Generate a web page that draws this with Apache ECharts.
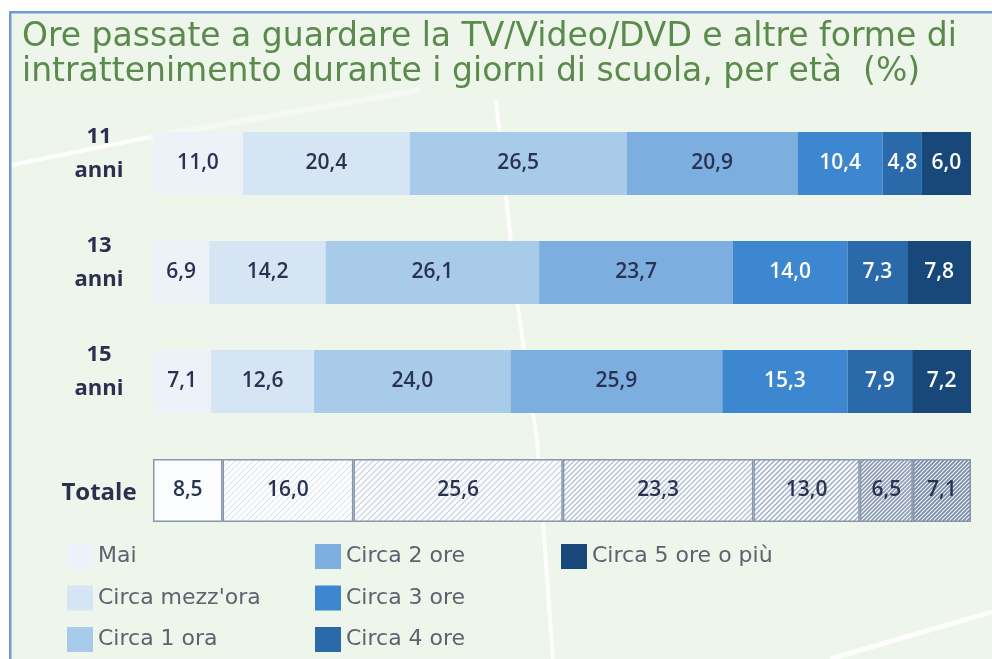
<!DOCTYPE html>
<html>
<head>
<meta charset="utf-8">
<script src="https://cdn.jsdelivr.net/npm/echarts@6/dist/echarts.min.js"></script>
<style>
  html, body { margin: 0; padding: 0; background: #ffffff; }
  #chart { width: 992px; height: 659px; }
</style>
</head>
<body>
<div id="chart"></div>
<script>
// categorie (righe) e fasce orarie (serie)
const ETA = ["11 anni", "13 anni", "15 anni", "Totale"];
const FASCE = [
  "Mai",
  "Circa mezz'ora",
  "Circa 1 ora",
  "Circa 2 ore",
  "Circa 3 ore",
  "Circa 4 ore",
  "Circa 5 ore o più",
];
// valori % per età, nell'ordine delle fasce
const ANNI_11 = [11.0, 20.4, 26.5, 20.9, 10.4, 4.8, 6.0];
const ANNI_13 = [6.9, 14.2, 26.1, 23.7, 14.0, 7.3, 7.8];
const ANNI_15 = [7.1, 12.6, 24.0, 25.9, 15.3, 7.9, 7.2];
const TOTALE = [8.5, 16.0, 25.6, 23.3, 13.0, 6.5, 7.1];

const COLORI = ["#edf2f9", "#d5e5f4", "#a9cbea", "#7cafe0", "#3c87cf", "#2a6aab", "#174879"];
const COLORI_LABEL = ["#2a3252", "#2a3252", "#2a3252", "#2a3252", "#ffffff", "#ffffff", "#ffffff"];
// tratteggio della barra Totale: [colore linea, spessore, passo]
const TRATTEGGI = [
  null,
  ["#d8e0ea", 1, 6],
  ["#c8d2df", 1.2, 6],
  ["#b4c1d3", 1.3, 5],
  ["#a0afc6", 1.5, 5],
  ["#8c9db8", 1.7, 4],
  ["#7a8daa", 1.9, 4],
];

function hatch(def) {
  const c = document.createElement("canvas");
  if (!def) {
    c.width = c.height = 4;
    const g = c.getContext("2d");
    g.fillStyle = "#fbfcfe";
    g.fillRect(0, 0, 4, 4);
    return c;
  }
  const [color, w, s] = def;
  c.width = c.height = s;
  const g = c.getContext("2d");
  g.fillStyle = "#fbfcfe";
  g.fillRect(0, 0, s, s);
  g.strokeStyle = color;
  g.lineWidth = w;
  g.beginPath();
  g.moveTo(-1, s + 1);
  g.lineTo(s + 1, -1);
  g.moveTo(-1, 1);
  g.lineTo(1, -1);
  g.moveTo(s - 1, s + 1);
  g.lineTo(s + 1, s - 1);
  g.stroke();
  return c;
}

function fmt(v) {
  return v.toFixed(1).replace(".", ",");
}

function getOption() {
  const series = FASCE.map((nome, i) => ({
    name: nome,
    type: "bar",
    stack: "tot",
    barWidth: 63,
    itemStyle: { color: COLORI[i] },
    label: {
      show: true,
      position: "inside",
      formatter: (p) => fmt(p.value),
      fontFamily: "Open Sans",
      fontWeight: 600,
      fontSize: 21,
      color: COLORI_LABEL[i],
    },
    data: [
      ANNI_11[i],
      ANNI_13[i],
      ANNI_15[i],
      {
        value: TOTALE[i],
        itemStyle: {
          color: { image: hatch(TRATTEGGI[i]), repeat: "repeat" },
          borderColor: "#8896ad",
          borderWidth: 1.5,
        },
        label: { color: "#2a3252" },
      },
    ],
  }));

  const legendBase = {
    orient: "vertical",
    icon: "rect",
    itemWidth: 26,
    itemHeight: 25,
    itemGap: 16.5,
    top: 544,
    padding: 0,
    height: 115,
    textStyle: { fontFamily: "DejaVu Sans", fontSize: 22, lineHeight: 25, color: "#5c6370" },
  };

  return {
    backgroundColor: "#eef5ea",
    animation: false,
    title: {
      text:
        "Ore passate a guardare la TV/Video/DVD e altre forme di\nintrattenimento durante i giorni di scuola, per età  (%)",
      left: 17,
      top: 15,
      textStyle: {
        fontFamily: "DejaVu Sans",
        fontWeight: "normal",
        fontSize: 33,
        lineHeight: 35,
        color: "#5a8a4c",
      },
    },
    graphic: [
      // cornice bianca + bordo blu in alto e a sinistra
      { type: "rect", shape: { x: 0, y: 0, width: 992, height: 11 }, style: { fill: "#ffffff" }, z: -10 },
      { type: "rect", shape: { x: 0, y: 0, width: 9, height: 659 }, style: { fill: "#ffffff" }, z: -10 },
      { type: "rect", shape: { x: 9, y: 11, width: 983, height: 2.5 }, style: { fill: "#6d9bd6" }, z: -9 },
      { type: "rect", shape: { x: 9, y: 11, width: 2.5, height: 648 }, style: { fill: "#6d9bd6" }, z: -9 },
      // riflessi chiari sullo sfondo
      { type: "polyline", shape: { points: [[12, 165], [150, 137]] }, style: { stroke: "rgba(255,255,255,0.9)", lineWidth: 4, fill: null }, z: -8 },
      { type: "polyline", shape: { points: [[150, 137], [420, 90]] }, style: { stroke: "rgba(255,255,255,0.45)", lineWidth: 6, fill: null }, z: -8 },
      { type: "polyline", shape: { points: [[496, 100], [517, 300], [537, 440], [553, 659]] }, style: { stroke: "rgba(255,255,255,0.85)", lineWidth: 4, fill: null }, z: -8 },
      { type: "polyline", shape: { points: [[830, 659], [992, 612]] }, style: { stroke: "rgba(255,255,255,0.85)", lineWidth: 5, fill: null }, z: -8 },
    ],
    legend: [
      Object.assign({}, legendBase, { left: 67, data: FASCE.slice(0, 3) }),
      Object.assign({}, legendBase, { left: 315, data: FASCE.slice(3, 6) }),
      Object.assign({}, legendBase, { left: 561, data: FASCE.slice(6) }),
    ],
    grid: { left: 153, right: 21, top: 109, height: 436 },
    xAxis: {
      type: "value",
      min: 0,
      max: 100,
      show: false,
    },
    yAxis: {
      type: "category",
      inverse: true,
      data: ETA,
      axisLine: { show: false },
      axisTick: { show: false },
      axisLabel: {
        align: "center",
        margin: 54,
        formatter: (v) => {
          if (v === "Totale") return "{t|Totale}";
          const [n, a] = v.split(" ");
          return "{n|" + n + "}\n{a|" + a + "}\n{s| }";
        },
        rich: {
          n: { fontFamily: "Open Sans", fontWeight: "bold", fontSize: 22, lineHeight: 34, color: "#2a3050" },
          a: { fontFamily: "Open Sans", fontWeight: "bold", fontSize: 22, lineHeight: 34, color: "#2a3050" },
          s: { fontSize: 10, lineHeight: 19 },
          t: { fontFamily: "Open Sans", fontWeight: "bold", fontSize: 24, color: "#2a3050", padding: [6, 0, 0, 0] },
        },
      },
    },
    series: series,
  };
}

const chart = echarts.init(document.getElementById("chart"));
chart.setOption(getOption());
</script>
</body>
</html>
